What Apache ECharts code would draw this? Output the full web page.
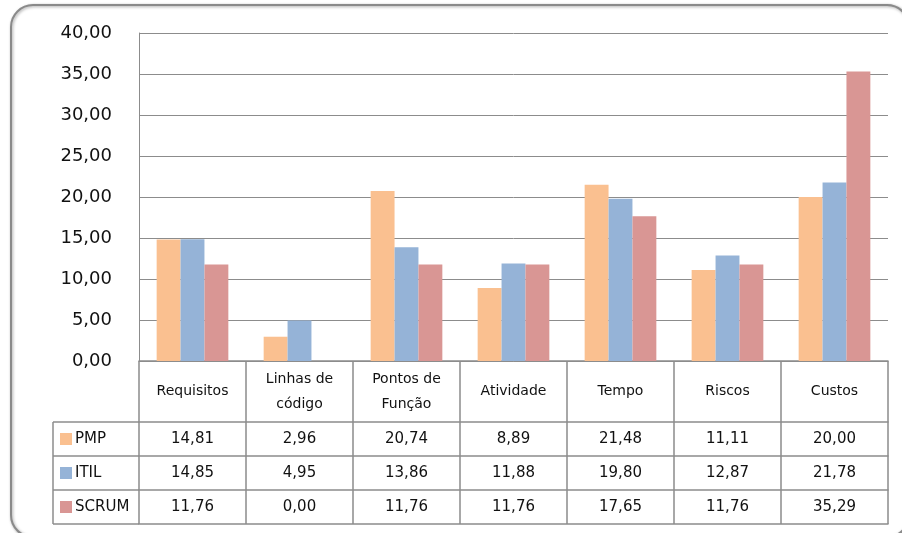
<!DOCTYPE html>
<html>
<head>
<meta charset="utf-8">
<script src="https://cdn.jsdelivr.net/npm/echarts@6/dist/echarts.min.js"></script>
<style>
  html, body { margin: 0; padding: 0; background: #fff; }
  #chart { width: 902px; height: 533px; }
</style>
</head>
<body>
<div id="chart"></div>
<script>
// Categories and values (percentages) per methodology
const categories = ['Requisitos', 'Linhas de\ncódigo', 'Pontos de\nFunção', 'Atividade', 'Tempo', 'Riscos', 'Custos'];
const seriesNames = ['PMP', 'ITIL', 'SCRUM'];
const pmpValues = [14.81, 2.96, 20.74, 8.89, 21.48, 11.11, 20.00];
const itilValues = [14.85, 4.95, 13.86, 11.88, 19.80, 12.87, 21.78];
const scrumValues = [11.76, 0.00, 11.76, 11.76, 17.65, 11.76, 35.29];
const yMin = 0, yMax = 40, yStep = 5;

const colors = ['#FAC090', '#95B3D7', '#D99694'];
const rows = [pmpValues, itilValues, scrumValues];

const FONT = 'DejaVu Sans';
const LINE = '#8c8c8c';
const grid = { left: 139, right: 14, top: 33, bottom: 172 };
// Table layout below the plot: header row, then one row per series
const headerH = 61;
const rowH = 34;
const tableLeft = 53;

const fmt = v => v.toFixed(2).replace('.', ',');

const chart = echarts.init(document.getElementById('chart'), null, { renderer: 'canvas' });

const xAxes = [{
  type: 'category',
  data: categories,
  position: 'bottom',
  axisLine: { show: true, lineStyle: { color: LINE, width: 1.5 } },
  axisTick: { show: true, interval: 0, length: headerH + rowH * 3, lineStyle: { color: LINE, width: 1.5 } },
  axisLabel: {
    interval: 0, margin: headerH / 2, verticalAlign: 'middle',
    fontFamily: FONT, fontSize: 14, lineHeight: 25, color: '#111'
  }
}];
rows.forEach((vals, r) => {
  xAxes.push({
    type: 'category',
    data: categories,
    position: 'bottom',
    offset: headerH + rowH * r,
    axisLine: { show: true, lineStyle: { color: LINE, width: 1.5 } },
    axisTick: { show: false },
    axisLabel: {
      interval: 0, margin: rowH / 2, verticalAlign: 'middle',
      fontFamily: FONT, fontSize: 15, color: '#111',
      formatter: (v, i) => fmt(vals[i])
    }
  });
});
xAxes.push({
  type: 'category',
  data: categories,
  position: 'bottom',
  offset: headerH + rowH * 3,
  axisLine: { show: true, lineStyle: { color: LINE, width: 1.5 } },
  axisTick: { show: false },
  axisLabel: { show: false }
});

chart.setOption({
  animation: false,
  backgroundColor: '#fff',
  grid: grid,
  xAxis: xAxes,
  yAxis: {
    type: 'value',
    min: yMin, max: yMax, interval: yStep,
    axisLine: { show: true, lineStyle: { color: LINE, width: 1 } },
    axisTick: { show: false },
    splitLine: { show: true, lineStyle: { color: LINE, width: 1 } },
    axisLabel: {
      margin: 27, fontFamily: FONT, fontSize: 18, color: '#111',
      formatter: v => fmt(v)
    }
  },
  series: rows.map((vals, r) => ({
    name: seriesNames[r],
    type: 'bar',
    xAxisIndex: 0,
    data: vals,
    barGap: '0%',
    barCategoryGap: '33%',
    itemStyle: { color: colors[r] }
  }))
});

// Chart frame and the legend column of the data table
const zeroY = chart.convertToPixel({ yAxisIndex: 0 }, 0);
const gfx = [];
gfx.push({
  type: 'rect', silent: true, z: -1,
  shape: { x: 11, y: 5, width: 898, height: 532, r: 22 },
  style: { fill: '#fff', stroke: '#8a8a8a', lineWidth: 2, shadowBlur: 3, shadowColor: 'rgba(0,0,0,0.35)', shadowOffsetX: 1, shadowOffsetY: 1 }
});
for (let r = 0; r <= 3; r++) {
  const y = zeroY + headerH + rowH * r;
  gfx.push({ type: 'line', silent: true, shape: { x1: tableLeft, y1: y, x2: grid.left, y2: y }, style: { stroke: LINE, lineWidth: 1.5 } });
}
gfx.push({ type: 'line', silent: true, shape: { x1: tableLeft, y1: zeroY + headerH, x2: tableLeft, y2: zeroY + headerH + rowH * 3 }, style: { stroke: LINE, lineWidth: 1.5 } });
seriesNames.forEach((name, r) => {
  const cy = zeroY + headerH + rowH * r + rowH / 2;
  gfx.push({ type: 'rect', silent: true, shape: { x: 60, y: cy - 6, width: 12, height: 12 }, style: { fill: colors[r] } });
  gfx.push({ type: 'text', silent: true, x: 75, y: cy, style: { text: name, fontFamily: FONT, fontSize: 15, fill: '#111', verticalAlign: 'middle', align: 'left' } });
});
chart.setOption({ graphic: gfx });
</script>
</body>
</html>
